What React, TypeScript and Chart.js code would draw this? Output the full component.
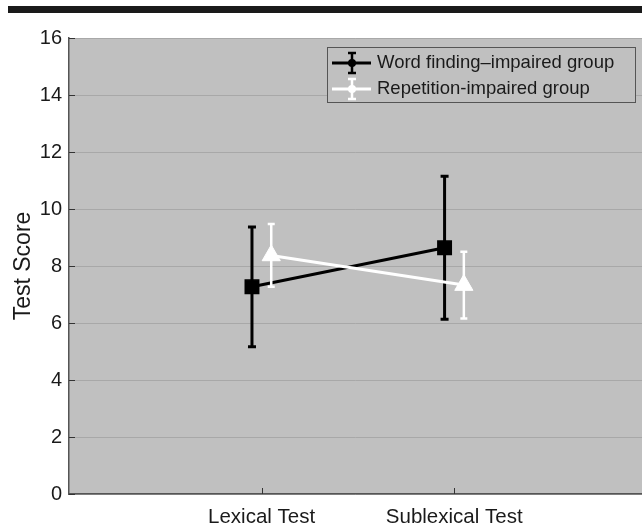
import React, { useEffect, useRef } from 'react';
import { Chart, registerables } from 'chart.js';
Chart.register(...registerables);

const categories = ['Lexical Test', 'Sublexical Test'];
const seriesLabels = ['Word finding\u2013impaired group', 'Repetition-impaired group'];
const wordFindingMeans = [7.27, 8.64];
const wordFindingErrors = [2.1, 2.51];
const repetitionMeans = [8.37, 7.33];
const repetitionErrors = [1.1, 1.17];
const yTicks = [0, 2, 4, 6, 8, 10, 12, 14, 16];
const groupOffsets = [-0.05, 0.05];

const FONT = '"Liberation Sans", Arial, Helvetica, sans-serif';

const bgPlugin = {
  id: 'plotBg',
  beforeDraw(chart: any) {
    const { ctx, chartArea: a } = chart;
    ctx.save();
    ctx.fillStyle = '#c0c0c0';
    ctx.fillRect(a.left, a.top, a.right - a.left, a.bottom - a.top);
    ctx.restore();
  },
};

const errorBarPlugin = {
  id: 'errorBars',
  beforeDatasetDraw(chart: any, args: any) {
    const ds = chart.data.datasets[args.index];
    const meta = chart.getDatasetMeta(args.index);
    const yScale = chart.scales.y;
    const ctx = chart.ctx;
    ctx.save();
    ctx.strokeStyle = ds.borderColor;
    ctx.lineWidth = ds.errWidth;
    ds.data.forEach((d: any, i: number) => {
      const x = meta.data[i].x;
      const yt = yScale.getPixelForValue(d.y + ds.errors[i]);
      const yb = yScale.getPixelForValue(d.y - ds.errors[i]);
      const c = ds.capHalf;
      ctx.beginPath();
      ctx.moveTo(x, yt);
      ctx.lineTo(x, yb);
      ctx.moveTo(x - c, yt);
      ctx.lineTo(x + c, yt);
      ctx.moveTo(x - c, yb);
      ctx.lineTo(x + c, yb);
      ctx.stroke();
    });
    ctx.restore();
  },
};

const ticksLegendPlugin = {
  id: 'ticksLegend',
  afterDraw(chart: any) {
    const { ctx, chartArea: a, scales } = chart;
    ctx.save();
    ctx.strokeStyle = '#333';
    ctx.lineWidth = 1;
    scales.y.ticks.forEach((t: any) => {
      const y = Math.round(scales.y.getPixelForValue(t.value)) + 0.5;
      ctx.beginPath();
      ctx.moveTo(a.left, y);
      ctx.lineTo(a.left + 6, y);
      ctx.stroke();
    });
    scales.x.ticks.forEach((t: any) => {
      const x = Math.round(scales.x.getPixelForValue(t.value)) + 0.5;
      ctx.beginPath();
      ctx.moveTo(x, a.bottom);
      ctx.lineTo(x, a.bottom - 6);
      ctx.stroke();
    });

    // legend
    const lx = 327, ly = 47, lw = 308, lh = 55;
    ctx.fillStyle = '#c0c0c0';
    ctx.fillRect(lx, ly, lw, lh);
    ctx.strokeStyle = '#555';
    ctx.lineWidth = 1;
    ctx.strokeRect(lx + 0.5, ly + 0.5, lw, lh);
    const rows = [63, 89];
    chart.data.datasets.forEach((ds: any, i: number) => {
      const cy = rows[i];
      ctx.strokeStyle = ds.borderColor;
      ctx.fillStyle = ds.borderColor;
      ctx.lineWidth = 3;
      ctx.beginPath();
      ctx.moveTo(332, cy);
      ctx.lineTo(371, cy);
      ctx.stroke();
      ctx.lineWidth = 2.5;
      ctx.beginPath();
      ctx.moveTo(352, cy - 10);
      ctx.lineTo(352, cy + 10);
      ctx.moveTo(348, cy - 10);
      ctx.lineTo(356, cy - 10);
      ctx.moveTo(348, cy + 10);
      ctx.lineTo(356, cy + 10);
      ctx.stroke();
      ctx.beginPath();
      ctx.arc(352, cy, 4, 0, Math.PI * 2);
      ctx.fill();
      ctx.fillStyle = '#1a1a1a';
      ctx.font = `18.5px ${FONT}`;
      ctx.textBaseline = 'middle';
      ctx.textAlign = 'left';
      ctx.fillText(ds.label, 377, cy);
    });
    ctx.restore();
  },
};

function makePoints(means: number[], offset: number) {
  return means.map((m, i) => ({ x: i + 1 + offset, y: m }));
}

export default function App() {
  const ref = useRef<HTMLCanvasElement>(null);
  useEffect(() => {
    if (!ref.current) return;
    const chart = new Chart(ref.current, {
      type: 'line',
      data: {
        datasets: [
          {
            label: seriesLabels[0],
            data: makePoints(wordFindingMeans, groupOffsets[0]),
            errors: wordFindingErrors,
            errWidth: 3,
            capHalf: 4,
            borderColor: '#000000',
            backgroundColor: '#000000',
            borderWidth: 3,
            pointStyle: 'rect',
            pointRadius: 9.5,
            pointBorderWidth: 1.5,
            pointBorderColor: '#000000',
            pointBackgroundColor: '#000000',
            order: 1,
          } as any,
          {
            label: seriesLabels[1],
            data: makePoints(repetitionMeans, groupOffsets[1]),
            errors: repetitionErrors,
            errWidth: 2.5,
            capHalf: 3.5,
            borderColor: '#ffffff',
            backgroundColor: '#ffffff',
            borderWidth: 3,
            pointStyle: 'triangle',
            pointRadius: 10.5,
            pointBorderWidth: 1,
            pointBackgroundColor: '#ffffff',
            order: 0,
          } as any,
        ],
      },
      options: {
        animation: false,
        responsive: false,
        layout: { autoPadding: false, padding: { top: 38, right: 0, left: 0, bottom: 0 } },
        plugins: { legend: { display: false }, tooltip: { enabled: false } },
        scales: {
          x: {
            type: 'linear',
            min: 0,
            max: 2.975,
            grid: { display: false },
            border: { display: true, color: '#555', width: 1.5 },
            afterBuildTicks: (s: any) => {
              s.ticks = categories.map((_, i) => ({ value: i + 1 }));
            },
            afterFit: (s: any) => {
              s.height = 38;
              s.paddingLeft = 0;
              s.paddingRight = 0;
            },
            ticks: {
              callback: (v: any) => categories[Math.round(v) - 1] ?? '',
              font: { family: FONT, size: 20.5 },
              color: '#1a1a1a',
              padding: 3,
              maxRotation: 0,
            },
          },
          y: {
            min: 0,
            max: 16,
            grid: { color: '#a8a8a8', lineWidth: 1, drawTicks: false },
            border: { display: true, color: '#555', width: 1.5 },
            afterBuildTicks: (s: any) => {
              s.ticks = yTicks.map((v) => ({ value: v }));
            },
            afterFit: (s: any) => {
              s.width = 69;
              s.paddingTop = 0;
              s.paddingBottom = 0;
            },
            ticks: {
              font: { family: FONT, size: 20 },
              color: '#1a1a1a',
              padding: 7,
            },
            title: {
              display: true,
              text: 'Test Score',
              font: { family: FONT, size: 23 },
              color: '#1a1a1a',
              padding: { top: 10, bottom: 0 },
            },
          },
        },
      } as any,
      plugins: [bgPlugin, errorBarPlugin, ticksLegendPlugin],
    });
    return () => chart.destroy();
  }, []);
  return (
    <div style={{ position: 'absolute', left: 0, top: 0, width: 642, height: 532, overflow: 'hidden', background: '#fff' }}>
      <div style={{ position: 'absolute', left: 8, top: 6, width: 634, height: 7, background: '#1a1a1a' }} />
      <canvas ref={ref} width={642} height={532} style={{ position: 'absolute', left: 0, top: 0 }} />
    </div>
  );
}
